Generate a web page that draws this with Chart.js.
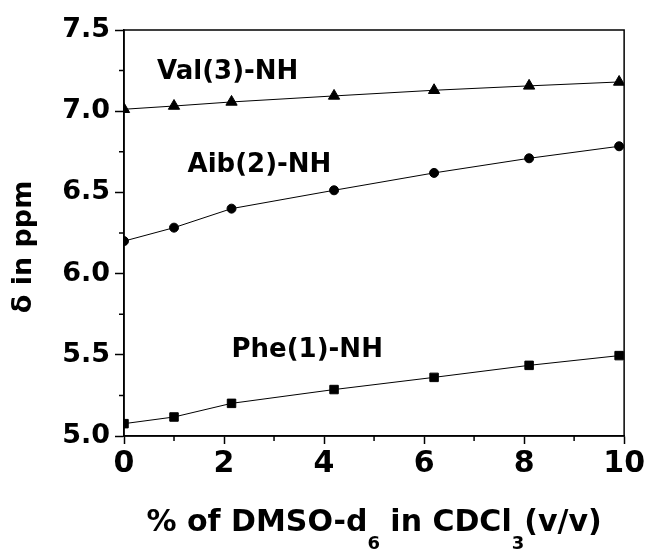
<!DOCTYPE html>
<html>
<head>
<meta charset="utf-8">
<script src="https://cdn.jsdelivr.net/npm/chart.js@4.4.0/dist/chart.umd.min.js"></script>
<style>
html, body { margin: 0; padding: 0; background: #fff; }
#wrap { width: 647px; height: 552px; }
</style>
</head>
<body>
<div id="wrap"><canvas id="shiftChart" width="647" height="552"></canvas></div>
<script>
// x: % of DMSO-d6 in CDCl3 (v/v)
var dmsoPercent = [0, 1, 2.15, 4.2, 6.2, 8.1, 9.9];

// chemical shifts (ppm) of the amide NH protons
var pheNH = [5.076, 5.117, 5.201, 5.286, 5.361, 5.435, 5.495];
var aibNH = [6.200, 6.283, 6.400, 6.513, 6.620, 6.710, 6.784];
var valNH = [7.012, 7.032, 7.057, 7.094, 7.129, 7.156, 7.180];

// minor tick positions
var xMinorTicks = [1, 3, 5, 7, 9];
var yMinorTicks = [5.25, 5.75, 6.25, 6.75, 7.25];

// text labels placed next to each curve (left edge, baseline) in data units
var curveLabels = ['Val(3)-NH', 'Aib(2)-NH', 'Phe(1)-NH'];
var curveLabelX = [0.66, 1.27, 2.15];
var curveLabelY = [7.196, 6.624, 5.485];

var FONT = "'DejaVu Sans', sans-serif";

function toPoints(xs, ys) {
	return xs.map(function (x, i) { return { x: x, y: ys[i] }; });
}

function series(name, values, shape, radius) {
	return {
		label: name,
		data: toPoints(dmsoPercent, values),
		borderColor: '#000',
		borderWidth: 1,
		pointStyle: shape,
		pointRadius: radius,
		pointBackgroundColor: '#000',
		pointBorderColor: '#000',
		pointBorderWidth: 1,
		tension: 0
	};
}

// frame, minor ticks, curve labels and axis titles
var decorPlugin = {
	id: 'decor',
	afterDraw: function (chart) {
		var ctx = chart.ctx;
		var area = chart.chartArea;
		var xs = chart.scales.x;
		var ys = chart.scales.y;
		ctx.save();

		ctx.strokeStyle = '#000';
		ctx.lineWidth = 1.5;
		ctx.strokeRect(area.left, area.top, area.right - area.left, area.bottom - area.top);

		ctx.beginPath();
		xMinorTicks.forEach(function (v) {
			var px = xs.getPixelForValue(v);
			ctx.moveTo(px, area.bottom);
			ctx.lineTo(px, area.bottom + 5);
		});
		yMinorTicks.forEach(function (v) {
			var py = ys.getPixelForValue(v);
			ctx.moveTo(area.left, py);
			ctx.lineTo(area.left - 5, py);
		});
		ctx.stroke();

		ctx.fillStyle = '#000';
		ctx.textAlign = 'left';
		ctx.textBaseline = 'alphabetic';
		ctx.font = 'bold 26px ' + FONT;
		curveLabels.forEach(function (t, i) {
			ctx.fillText(t, xs.getPixelForValue(curveLabelX[i]), ys.getPixelForValue(curveLabelY[i]));
		});

		// x title with subscripts
		var parts = [
			{ t: '% of DMSO-d', sub: false },
			{ t: '6', sub: true },
			{ t: ' in CDCl', sub: false },
			{ t: '3', sub: true },
			{ t: '(v/v)', sub: false }
		];
		var mainFont = 'bold 30px ' + FONT;
		var subFont = 'bold 18px ' + FONT;
		var total = 0;
		parts.forEach(function (p) {
			ctx.font = p.sub ? subFont : mainFont;
			p.w = ctx.measureText(p.t).width;
			total += p.w;
		});
		var cx = (area.left + area.right) / 2;
		var px = cx - total / 2;
		var base = 531;
		parts.forEach(function (p) {
			ctx.font = p.sub ? subFont : mainFont;
			ctx.fillText(p.t, px, p.sub ? base + 18 : base);
			px += p.w;
		});

		// y title
		ctx.save();
		ctx.translate(24, 247);
		ctx.rotate(-Math.PI / 2);
		ctx.textAlign = 'center';
		ctx.textBaseline = 'middle';
		ctx.font = 'bold 27px ' + FONT;
		ctx.fillText('\u03b4 in ppm', 0, 0);
		ctx.restore();

		ctx.restore();
	}
};

var ctx = document.getElementById('shiftChart').getContext('2d');
var shiftChart = new Chart(ctx, {
	type: 'line',
	data: {
		datasets: [
			series('Phe(1)-NH', pheNH, 'rect', 6),
			series('Aib(2)-NH', aibNH, 'circle', 4.5),
			series('Val(3)-NH', valNH, 'triangle', 6.5)
		]
	},
	options: {
		responsive: false,
		animation: false,
		devicePixelRatio: 1,
		layout: { padding: { left: 0, right: 21, top: 30, bottom: 0 } },
		plugins: {
			legend: { display: false },
			tooltip: { enabled: false }
		},
		scales: {
			x: {
				type: 'linear',
				min: 0,
				max: 10,
				ticks: {
					stepSize: 2,
					color: '#000',
					padding: 2,
					font: { family: FONT, size: 30, weight: 'bold' }
				},
				grid: { drawOnChartArea: false, drawTicks: true, tickLength: 8, tickColor: '#000', tickWidth: 1.5 },
				border: { color: '#000', width: 1.5 },
				afterFit: function (scale) { scale.height = 116; }
			},
			y: {
				type: 'linear',
				min: 5,
				max: 7.5,
				ticks: {
					stepSize: 0.5,
					color: '#000',
					padding: 5,
					font: { family: FONT, size: 27, weight: 'bold' },
					callback: function (v) { return v.toFixed(1); }
				},
				grid: { drawOnChartArea: false, drawTicks: true, tickLength: 9, tickColor: '#000', tickWidth: 1.5 },
				border: { color: '#000', width: 1.5 },
				afterFit: function (scale) { scale.width = 124; }
			}
		}
	},
	plugins: [decorPlugin]
});
</script>
</body>
</html>
